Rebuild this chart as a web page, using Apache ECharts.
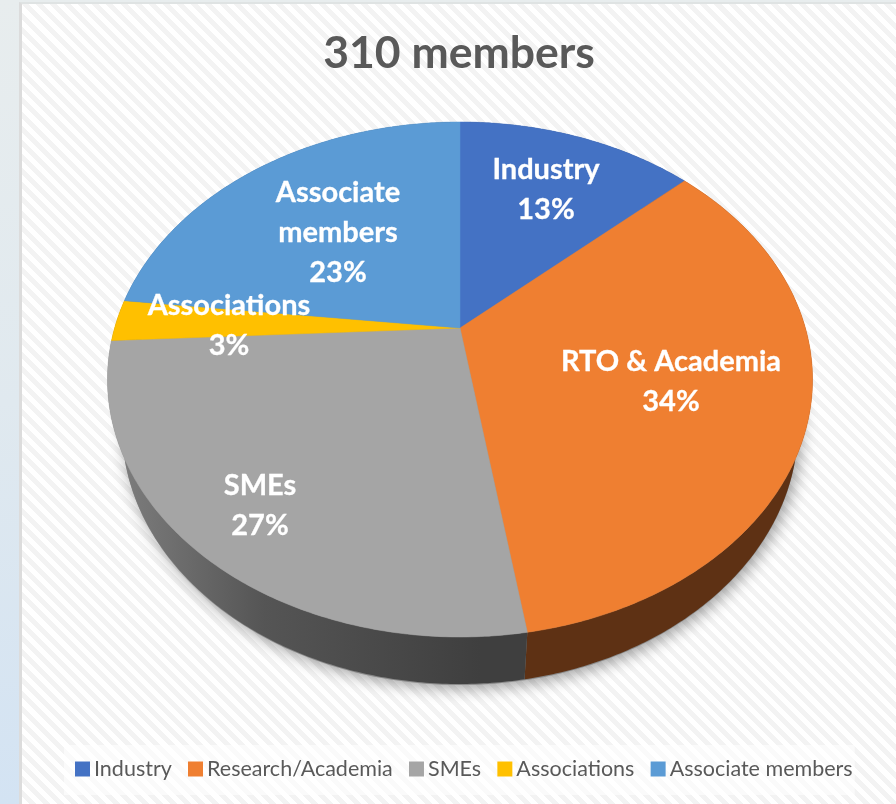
<!DOCTYPE html>
<html>
<head>
<meta charset="utf-8">
<script src="https://cdn.jsdelivr.net/npm/echarts@6/dist/echarts.min.js"></script>
<style>
  html, body { margin: 0; padding: 0; width: 896px; height: 804px; overflow: hidden; }
  body { background: linear-gradient(180deg, #e8edee 0%, #e0e9ef 50%, #d3e3f3 100%); }
  #card {
    position: absolute; left: 19px; top: 2px; width: 877px; height: 802px;
    box-sizing: border-box; border-left: 3px solid #dcdcdc; border-top: 2px solid #dfe3e3;
    background: repeating-linear-gradient(45deg, #ffffff 0 5px, #f3f3f3 5px 10px);
  }
  #chart { position: absolute; left: 0; top: 0; width: 896px; height: 804px; }
</style>
</head>
<body>
<div id="card"></div>
<div id="chart"></div>
<script>
var titleText = '310 members';
var categories = ['Industry', 'Research/Academia', 'SMEs', 'Associations', 'Associate members'];
var sliceNames = ['Industry', 'RTO & Academia', 'SMEs', 'Associations', 'Associate\nmembers'];
var values = [13.2, 34.3, 26.7, 2.6, 23.2];
var colors = ['#4472c4', '#ef7f31', '#a5a5a5', '#ffc000', '#5b9bd5'];
var wallColors = ['#2a4478', '#5e3114', '#444444', '#8a6c00', '#335a80'];
// label centres, placed by hand like the best-fit ones in the original
var labelSpots = [[546, 190], [671, 382], [260, 506], [229, 326], [338, 233]];

var total = values.reduce(function (a, b) { return a + b; }, 0);

// tilted disc: circle point -> screen, with the perspective that pushes the apex up
var tilt = 0.2;
var topFace = { cx: 460, cy: 328, gx: 345.4, gy: 247.2 };
var bottomFace = { cx: 460, cy: 375, gx: 331.2, gy: 247.2 };

function project(face, a) {
  var X = Math.sin(a), Y = -Math.cos(a), d = 1 - tilt * Y;
  return [face.cx + face.gx * X / d, face.cy + face.gy * Y / d];
}

function arc(face, a0, a1) {
  var pts = [], n = Math.max(2, Math.ceil((a1 - a0) / 0.01));
  for (var i = 0; i <= n; i++) {
    pts.push(project(face, a0 + (a1 - a0) * i / n));
  }
  return pts;
}

function wallFill(i) {
  if (i !== 2) return wallColors[i];
  return {
    type: 'linear', global: true, x: 120, y: 0, x2: 480, y2: 0,
    colorStops: [
      { offset: 0, color: '#7d7d7d' },
      { offset: 0.4, color: '#555555' },
      { offset: 1, color: '#3f3f3f' }
    ]
  };
}

function sliceRenderer(i) {
  return function (params, api) {
    var before = values.slice(0, i).reduce(function (a, b) { return a + b; }, 0);
    var a0 = before / total * Math.PI * 2;
    var a1 = (before + api.value(0)) / total * Math.PI * 2;
    var top = arc(topFace, a0, a1);
    var wall = top.concat(arc(bottomFace, a0, a1).reverse());
    var pct = Math.round(api.value(0) / total * 100) + '%';
    return {
      type: 'group',
      children: [
        {
          type: 'polygon', z2: 1,
          shape: { points: wall },
          style: { fill: wallFill(i), stroke: null }
        },
        {
          type: 'polygon', z2: 10,
          shape: { points: [[topFace.cx, topFace.cy]].concat(top) },
          style: { fill: colors[i], stroke: colors[i], lineWidth: 0.5 }
        },
        {
          type: 'text', z2: 20,
          style: {
            text: sliceNames[i] + '\n' + pct,
            x: labelSpots[i][0], y: labelSpots[i][1],
            align: 'center', verticalAlign: 'middle',
            fill: '#ffffff', stroke: '#ffffff', lineWidth: 0.3,
            font: 'bold 29px Lato', lineHeight: 40
          }
        }
      ]
    };
  };
}

var chart = echarts.init(document.getElementById('chart'));
chart.setOption({
  animation: false,
  backgroundColor: 'transparent',
  title: {
    text: titleText,
    left: 454, top: 26, textAlign: 'center',
    textStyle: { color: '#595959', fontFamily: 'Lato', fontWeight: 'bold', fontSize: 44.5 }
  },
  legend: {
    data: categories,
    left: 64, top: 745,
    padding: [13, 2, 15, 11],
    itemWidth: 15, itemHeight: 15, itemGap: 16.2,
    backgroundColor: 'rgba(255,255,255,0.6)',
    icon: 'rect',
    textStyle: { color: '#595959', fontFamily: 'Lato', fontSize: 21.5, padding: [0, 0, 0, -1] }
  },
  graphic: [{
    type: 'ellipse', z: -1,
    shape: { cx: 460, cy: 427, rx: 338, ry: 258 },
    style: { fill: '#888888', shadowBlur: 16, shadowColor: 'rgba(0,0,0,0.4)', shadowOffsetX: 3, shadowOffsetY: 3 }
  }],
  series: categories.map(function (name, i) {
    return {
      type: 'custom',
      name: name,
      coordinateSystem: 'none',
      clip: false,
      itemStyle: { color: colors[i] },
      data: [[values[i]]],
      renderItem: sliceRenderer(i)
    };
  })
});
</script>
</body>
</html>
